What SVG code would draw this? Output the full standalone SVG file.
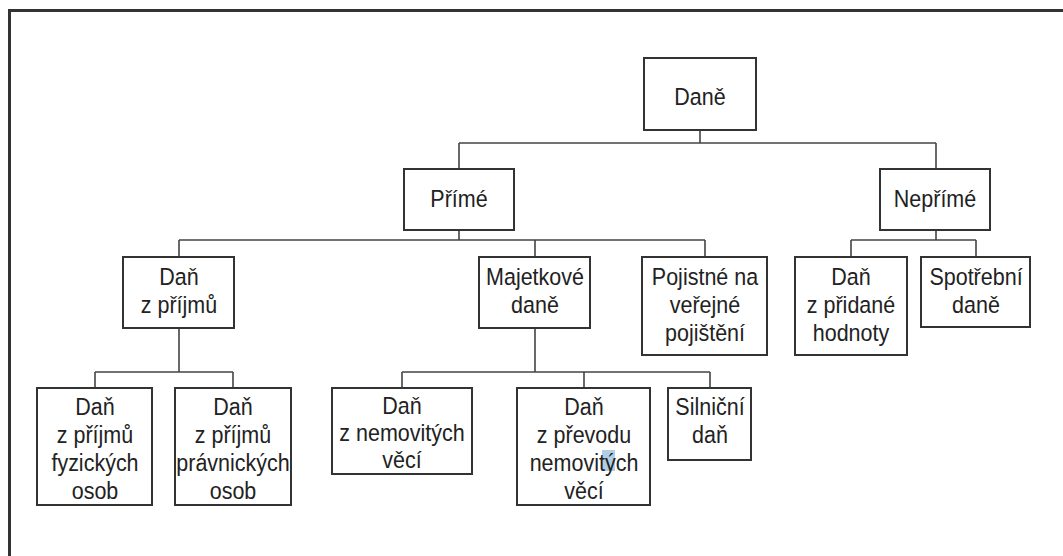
<svg xmlns="http://www.w3.org/2000/svg" width="1063" height="556" viewBox="0 0 1063 556">
<style>
.box{fill:#fff;stroke:#333;stroke-width:2}
.t{font-family:"Liberation Sans",Arial,sans-serif;font-size:21.5px;fill:#222;text-anchor:middle}
.c{fill:none;stroke:#444;stroke-width:1.6}
</style>
<rect width="1063" height="556" fill="#fff"/>
<path d="M9.5,556 V10.5 H1063" fill="none" stroke="#333" stroke-width="3"/>
<g id="connectors">
<path class="c" d="M700,130 V143 M459,143 H936 M459,143 V169 M936,143 V169"/>
<path class="c" d="M459,230 V240 M179,240 H705 M179,240 V257 M535,240 V257 M705,240 V257"/>
<path class="c" d="M936,230 V240 M851,240 H976 M851,240 V257 M976,240 V257"/>
<path class="c" d="M179,328 V372 M95,372 H233 M95,372 V388 M233,372 V388"/>
<path class="c" d="M535,328 V372 M402,372 H710 M402,372 V388 M584,372 V388 M710,372 V388"/>
</g>
<g id="dane"><rect class="box" x="644" y="58" width="112" height="72"/><text class="t" transform="translate(700 105) scale(1 1.1)">Daně</text></g>
<g id="prime"><rect class="box" x="404" y="169" width="110" height="61"/><text class="t" transform="translate(459 207) scale(1 1.1)">Přímé</text></g>
<g id="neprime"><rect class="box" x="880" y="169" width="110" height="61"/><text class="t" transform="translate(935 207) scale(1 1.1)">Nepřímé</text></g>
<g id="dan-z-prijmu"><rect class="box" x="123" y="257" width="111" height="71"/><text class="t" transform="translate(179 285) scale(1 1.12)">Daň</text><text class="t" transform="translate(179 313) scale(1 1.12)">z příjmů</text></g>
<g id="majetkove"><rect class="box" x="479" y="257" width="111" height="71"/><text class="t" transform="translate(535 285) scale(1 1.12)">Majetkové</text><text class="t" transform="translate(535 313) scale(1 1.12)">daně</text></g>
<g id="pojistne"><rect class="box" x="642" y="257" width="125" height="98"/><text class="t" transform="translate(705 285) scale(1 1.12)">Pojistné na</text><text class="t" transform="translate(705 313) scale(1 1.12)">veřejné</text><text class="t" transform="translate(705 341) scale(1 1.12)">pojištění</text></g>
<g id="dph"><rect class="box" x="795" y="257" width="112" height="98"/><text class="t" transform="translate(851 285) scale(1 1.1)">Daň</text><text class="t" transform="translate(851 313) scale(1 1.1)">z přidané</text><text class="t" transform="translate(851 341) scale(1 1.1)">hodnoty</text></g>
<g id="spotrebni"><rect class="box" x="921" y="257" width="109" height="70"/><text class="t" transform="translate(976 285) scale(1 1.1)">Spotřební</text><text class="t" transform="translate(976 313) scale(1 1.1)">daně</text></g>
<g id="fyzicke"><rect class="box" x="37" y="388" width="115" height="117"/><text class="t" transform="translate(95 415) scale(1 1.15)">Daň</text><text class="t" transform="translate(95 443) scale(1 1.15)">z příjmů</text><text class="t" transform="translate(95 471) scale(1 1.15)">fyzických</text><text class="t" transform="translate(95 499) scale(1 1.15)">osob</text></g>
<g id="pravnicke"><rect class="box" x="175" y="388" width="116" height="117"/><text class="t" transform="translate(233 415) scale(1 1.15)">Daň</text><text class="t" transform="translate(233 443) scale(1 1.15)">z příjmů</text><text class="t" transform="translate(233 471) scale(1 1.15)">právnických</text><text class="t" transform="translate(233 499) scale(1 1.15)">osob</text></g>
<g id="nemovite"><rect class="box" x="332" y="388" width="140" height="86"/><text class="t" transform="translate(402 414) scale(1 1.08)">Daň</text><text class="t" transform="translate(402 441) scale(1 1.08)">z nemovitých</text><text class="t" transform="translate(402 468) scale(1 1.08)">věcí</text></g>
<g id="prevod"><rect class="box" x="517" y="388" width="133" height="117"/><rect x="602" y="450" width="13" height="21" fill="#9cc3de" opacity="0.8"/><text class="t" transform="translate(584 415) scale(1 1.15)">Daň</text><text class="t" transform="translate(584 443) scale(1 1.15)">z převodu</text><text class="t" transform="translate(584 471) scale(1 1.15)">nemovitých</text><text class="t" transform="translate(584 499) scale(1 1.15)">věcí</text></g>
<g id="silnicni"><rect class="box" x="668" y="388" width="83" height="72"/><text class="t" transform="translate(710 415) scale(1 1.15)">Silniční</text><text class="t" transform="translate(710 443) scale(1 1.15)">daň</text></g>
</svg>
